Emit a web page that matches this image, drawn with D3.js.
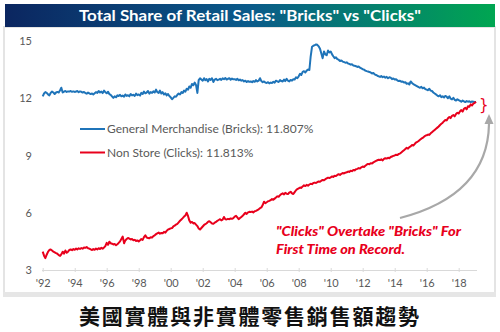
<!DOCTYPE html>
<html>
<head>
<meta charset="utf-8">
<script src="https://cdn.jsdelivr.net/npm/d3@7"></script>
<style>
  html, body { margin: 0; padding: 0; background: #fff; }
  svg { display: block; }
</style>
</head>
<body>
<svg id="chart" width="500" height="332"></svg>
<script>
// Monthly share of total retail sales (%), Jan 1992 onward.
const startYear = 1992;

const bricks = [
  // 1992
  12.10, 12.25, 12.32, 12.28, 12.20, 12.15, 12.28, 12.35, 12.30, 12.22, 12.30, 12.33,
  // 1993
  12.30, 12.42, 12.55, 12.30, 12.35, 12.38, 12.33, 12.36, 12.35, 12.38, 12.34, 12.36,
  // 1994
  12.33, 12.35, 12.38, 12.32, 12.36, 12.34, 12.30, 12.33, 12.27, 12.24, 12.30, 12.26,
  // 1995
  12.22, 12.25, 12.20, 12.26, 12.32, 12.28, 12.38, 12.30, 12.35, 12.27, 12.40, 12.32,
  // 1996
  12.26, 12.34, 12.22, 12.18, 12.10, 12.02, 12.10, 12.05, 12.15, 12.12, 12.18, 12.10,
  // 1997
  12.14, 12.08, 12.20, 12.12, 12.16, 12.10, 12.22, 12.15, 12.18, 12.12, 12.24, 12.16,
  // 1998
  12.20, 12.14, 12.28, 12.22, 12.35, 12.26, 12.30, 12.38, 12.24, 12.32, 12.28, 12.36,
  // 1999
  12.30, 12.45, 12.32, 12.28, 12.40, 12.25, 12.32, 12.20, 12.26, 12.15, 12.22, 12.12,
  // 2000
  12.05, 11.95, 12.02, 12.10, 12.08, 12.18, 12.25, 12.20, 12.32, 12.28, 12.40, 12.35,
  // 2001
  12.50, 12.45, 12.62, 12.55, 12.75, 12.68, 12.82, 12.70, 12.28, 12.95, 13.05, 12.98,
  // 2002
  12.92, 13.05, 12.95, 13.00, 12.88, 13.02, 12.96, 13.05, 12.85, 12.98, 13.02, 12.95,
  // 2003
  12.98, 13.02, 12.96, 13.04, 13.00, 13.06, 12.98, 13.02, 13.05, 12.97, 13.03, 12.99,
  // 2004
  13.00, 12.96, 13.02, 12.94, 12.98, 12.92, 12.95, 12.88, 12.92, 12.85, 12.90, 12.86,
  // 2005
  12.88, 12.84, 12.90, 12.86, 12.95, 12.88, 12.92, 13.05, 12.90, 12.84, 12.88, 12.82,
  // 2006
  12.80, 12.84, 12.78, 12.82, 12.80, 12.86, 12.82, 12.92, 12.88, 12.85, 12.95, 12.90,
  // 2007
  12.88, 12.98, 12.90, 13.02, 12.92, 12.88, 12.96, 12.92, 13.00, 12.98, 13.10, 13.05,
  // 2008
  13.15, 13.28, 13.22, 13.38, 13.42, 13.35, 13.45, 13.50, 13.48, 14.20, 14.70, 14.75,
  // 2009
  14.78, 14.82, 14.80, 14.72, 14.60, 14.35, 14.10, 14.45, 14.30, 14.25, 14.50, 14.40,
  // 2010
  14.45, 14.30, 14.20, 14.10, 14.15, 14.05, 14.02, 13.95, 13.98, 13.92, 13.90, 13.86,
  // 2011
  13.88, 13.82, 13.80, 13.76, 13.78, 13.72, 13.70, 13.68, 13.64, 13.66, 13.60, 13.56,
  // 2012
  13.52, 13.50, 13.45, 13.42, 13.40, 13.38, 13.35, 13.30, 13.32, 13.25, 13.22, 13.18,
  // 2013
  13.15, 13.12, 13.16, 13.10, 13.14, 13.08, 13.12, 13.05, 13.10, 13.08, 13.00, 13.04,
  // 2014
  12.98, 13.00, 12.94, 12.90, 12.92, 12.86, 12.88, 12.82, 12.84, 12.76, 12.78, 12.72,
  // 2015
  12.88, 12.80, 12.74, 12.70, 12.66, 12.62, 12.58, 12.55, 12.60, 12.52, 12.56, 12.48,
  // 2016
  12.45, 12.42, 12.50, 12.40, 12.38, 12.30, 12.25, 12.20, 12.14, 12.10, 12.16, 12.06,
  // 2017
  12.10, 12.04, 12.12, 12.08, 12.00, 12.10, 11.98, 11.94, 12.02, 11.92, 11.88, 11.95,
  // 2018
  11.90, 11.86, 11.82, 11.88, 11.84, 11.80, 11.85, 11.82, 11.84, 11.80, 11.83, 11.82,
  // 2019
  11.80, 11.807
];

const clicks = [
  // 1992
  3.96, 3.75, 3.62, 3.80, 3.95, 4.05, 4.08, 4.02, 3.96, 3.92, 3.88, 3.85,
  // 1993
  3.78, 3.74, 3.82, 3.96, 3.86, 4.02, 3.90, 3.96, 4.05, 4.08, 4.04, 4.10,
  // 1994
  4.06, 4.12, 4.08, 4.14, 4.10, 4.15, 4.12, 4.18, 4.16, 4.20, 4.14, 4.12,
  // 1995
  4.08, 4.05, 4.10, 4.06, 4.12, 4.08, 4.14, 4.10, 4.16, 4.12, 4.18, 4.25,
  // 1996
  4.42, 4.32, 4.48, 4.40, 4.38, 4.34, 4.36, 4.30, 4.35, 4.42, 4.50, 4.62,
  // 1997
  4.75, 4.40, 4.55, 4.62, 4.68, 4.64, 4.60, 4.62, 4.56, 4.58, 4.52, 4.55,
  // 1998
  4.50, 4.56, 4.62, 4.58, 4.72, 4.82, 4.70, 4.68, 4.66, 4.72, 4.70, 4.78,
  // 1999
  4.82, 4.88, 4.92, 4.96, 4.90, 4.94, 4.92, 5.00, 4.96, 5.05, 5.12, 5.15,
  // 2000
  5.18, 5.20, 5.28, 5.32, 5.38, 5.42, 5.50, 5.58, 5.65, 5.72, 5.80, 5.86,
  // 2001
  6.00, 5.82, 5.60, 5.48, 5.52, 5.44, 5.46, 5.38, 5.30, 5.18, 5.12, 5.20,
  // 2002
  5.28, 5.36, 5.40, 5.45, 5.52, 5.56, 5.50, 5.44, 5.42, 5.48, 5.52, 5.58,
  // 2003
  5.62, 5.66, 5.60, 5.64, 5.78, 5.66, 5.65, 5.68, 5.66, 5.70, 5.68, 5.72,
  // 2004
  5.80, 5.84, 5.76, 5.66, 5.72, 5.78, 5.84, 5.92, 6.00, 5.94, 6.02, 6.05,
  // 2005
  6.04, 6.06, 6.02, 6.08, 6.10, 6.14, 6.18, 6.24, 6.28, 6.40, 6.58, 6.50,
  // 2006
  6.55, 6.60, 6.62, 6.66, 6.72, 6.68, 6.74, 6.80, 6.86, 6.84, 6.92, 6.98,
  // 2007
  7.02, 6.96, 7.04, 7.00, 6.98, 7.06, 7.10, 7.02, 6.98, 7.08, 7.18, 7.24,
  // 2008
  7.28, 7.32, 7.30, 7.38, 7.44, 7.40, 7.46, 7.42, 7.48, 7.52, 7.50, 7.56,
  // 2009
  7.58, 7.56, 7.60, 7.64, 7.62, 7.68, 7.72, 7.70, 7.76, 7.80, 7.84, 7.82,
  // 2010
  7.86, 7.90, 7.88, 7.94, 7.92, 7.98, 8.02, 7.98, 8.04, 8.08, 8.06, 8.10,
  // 2011
  8.12, 8.16, 8.14, 8.20, 8.18, 8.24, 8.22, 8.28, 8.30, 8.34, 8.32, 8.38,
  // 2012
  8.42, 8.40, 8.46, 8.52, 8.56, 8.54, 8.60, 8.58, 8.64, 8.68, 8.72, 8.75,
  // 2013
  8.78, 8.76, 8.80, 8.74, 8.82, 8.86, 8.84, 8.88, 8.86, 8.92, 8.95, 8.98,
  // 2014
  9.00, 9.04, 9.02, 9.08, 9.10, 9.16, 9.22, 9.28, 9.34, 9.40, 9.36, 9.44,
  // 2015
  9.48, 9.55, 9.52, 9.60, 9.68, 9.72, 9.76, 9.82, 9.88, 9.92, 9.98, 10.04,
  // 2016
  10.06, 10.10, 10.08, 10.16, 10.22, 10.28, 10.34, 10.40, 10.46, 10.52, 10.60, 10.66,
  // 2017
  10.72, 10.80, 10.86, 10.84, 10.95, 11.02, 10.96, 11.08, 11.12, 11.05, 11.18, 11.24,
  // 2018
  11.20, 11.32, 11.38, 11.30, 11.45, 11.50, 11.42, 11.58, 11.55, 11.68, 11.62, 11.72,
  // 2019
  11.76, 11.813
];

const yTicks = [3, 6, 9, 12, 15];
const xTickYears = [1992, 1994, 1996, 1998, 2000, 2002, 2004, 2006, 2008, 2010, 2012, 2014, 2016, 2018];

const titleText = 'Total Share of Retail Sales: "Bricks" vs "Clicks"';
const legendItems = [
  { label: "General Merchandise (Bricks): 11.807%", color: "#1f74b9" },
  { label: "Non Store (Clicks): 11.813%", color: "#e8001c" }
];
const noteLines = ['"Clicks" Overtake "Bricks" For', "First Time on Record."];
const caption = "美國實體與非實體零售銷售額趨勢";

const monthDate = i => new Date(startYear + Math.floor(i / 12), i % 12, 1);

const svg = d3.select("#chart");

// Title banner with navy-to-green gradient
const defs = svg.append("defs");
const grad = defs.append("linearGradient").attr("id", "banner").attr("x1", "0%").attr("x2", "100%");
grad.append("stop").attr("offset", "0%").attr("stop-color", "#0b2660");
grad.append("stop").attr("offset", "50%").attr("stop-color", "#0a5a8a");
grad.append("stop").attr("offset", "100%").attr("stop-color", "#00a651");

// Panel frame
svg.append("rect").attr("x", 4).attr("y", 27).attr("width", 491).attr("height", 268)
  .attr("fill", "#fff").attr("stroke", "#e4e4e4").attr("stroke-width", 2);
svg.append("rect").attr("x", 3).attr("y", 292).attr("width", 493).attr("height", 5).attr("fill", "#e6e6e6");

svg.append("rect").attr("x", 5).attr("y", 4).attr("width", 490).attr("height", 23).attr("fill", "url(#banner)");
svg.append("text").attr("x", 250).attr("y", 21).attr("text-anchor", "middle")
  .attr("font-family", "Lato, 'Open Sans', sans-serif").attr("font-weight", 700).attr("font-size", 16)
  .attr("fill", "#fff").attr("textLength", 342).attr("lengthAdjust", "spacingAndGlyphs")
  .text(titleText);

// Scales
const x = d3.scaleTime()
  .domain([new Date(1992, 0, 1), new Date(2018, 0, 1)])
  .range([42.7, 458.7]);
const y = d3.scaleLinear().domain([3, 15]).range([270, 41]);

// Y labels
svg.append("g").selectAll("text").data(yTicks).join("text")
  .attr("x", 32).attr("y", d => y(d) + 4).attr("text-anchor", "end")
  .attr("font-family", "Lato, 'Open Sans', sans-serif").attr("font-size", 11).attr("fill", "#595959")
  .text(d => d);

// X axis
const xAxis = d3.axisBottom(x)
  .tickValues(xTickYears.map(yr => new Date(yr, 0, 1)))
  .tickFormat(d => "'" + String(d.getFullYear()).slice(2))
  .tickSize(3).tickSizeOuter(0);
const gx = svg.append("g").attr("transform", "translate(0,270)").call(xAxis);
gx.select(".domain").attr("stroke", "#d9d9d9").attr("d", "M42,0.5H477");
gx.selectAll(".tick line").attr("stroke", "#d9d9d9").attr("y1", -2).attr("y2", 2);
gx.selectAll(".tick text").attr("font-family", "Lato, 'Open Sans', sans-serif").attr("font-size", 11)
  .attr("fill", "#595959").attr("dy", "0.95em").attr("y", 7);

// Series lines
const line = d3.line().x((d, i) => x(monthDate(i))).y(d => y(d));
svg.append("path").datum(bricks).attr("d", line)
  .attr("fill", "none").attr("stroke", legendItems[0].color).attr("stroke-width", 2).attr("stroke-linejoin", "round");
svg.append("path").datum(clicks).attr("d", line)
  .attr("fill", "none").attr("stroke", legendItems[1].color).attr("stroke-width", 2).attr("stroke-linejoin", "round");

// Legend
const lg = svg.append("g").selectAll("g").data(legendItems).join("g")
  .attr("transform", (d, i) => `translate(80,${129 + i * 23.5})`);
lg.append("line").attr("x1", 0).attr("x2", 25).attr("y1", 0).attr("y2", 0)
  .attr("stroke", d => d.color).attr("stroke-width", 2);
lg.append("text").attr("x", 27).attr("y", 4)
  .attr("font-family", "Lato, 'Open Sans', sans-serif").attr("font-size", 12).attr("fill", "#595959")
  .text(d => d.label);

// Bracket marking the crossover gap
svg.append("text").attr("x", 479).attr("y", 110)
  .attr("font-family", "'DejaVu Sans', sans-serif").attr("font-size", 15).attr("fill", "#e8001c")
  .text("}");

// Curved pointer to the crossover
svg.append("path").attr("d", "M400,218 C450,205 488,178 489,124")
  .attr("fill", "none").attr("stroke", "#a8a8a8").attr("stroke-width", 2.2);
svg.append("path").attr("d", "M489,114 L484.5,124 L493.5,124 Z").attr("fill", "#a8a8a8");

// Annotation
const noteWidths = [185, 129];
svg.append("g").selectAll("text").data(noteLines).join("text")
  .attr("x", 276).attr("y", (d, i) => 235.5 + i * 18.5)
  .attr("font-family", "Lato, 'Open Sans', sans-serif").attr("font-weight", 900).attr("font-style", "italic")
  .attr("font-size", 14).attr("fill", "#e8001c")
  .attr("textLength", (d, i) => noteWidths[i]).attr("lengthAdjust", "spacingAndGlyphs")
  .text(d => d);

// Caption
svg.append("text").attr("x", 249).attr("y", 324).attr("text-anchor", "middle")
  .attr("font-family", "'Noto Sans CJK TC', 'Noto Sans CJK SC', sans-serif").attr("font-weight", 700)
  .attr("font-size", 21).attr("fill", "#111").attr("textLength", 340).attr("lengthAdjust", "spacing")
  .text(caption);
</script>
</body>
</html>
